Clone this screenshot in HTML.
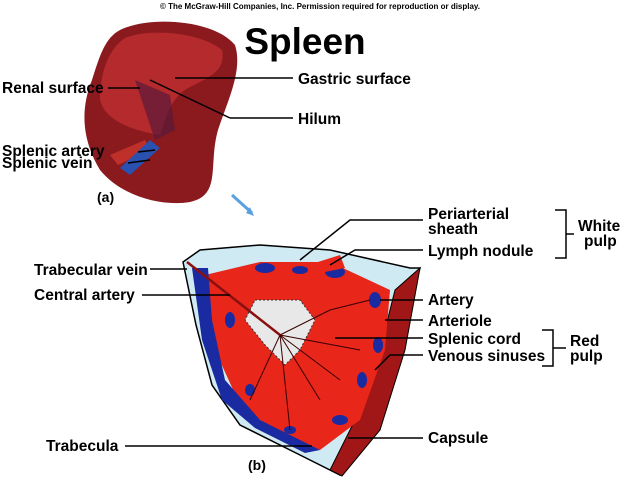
<!DOCTYPE html>
<html><head><style>
body{margin:0;background:#fff;width:640px;height:480px;overflow:hidden}
svg{display:block}
text{font-family:"Liberation Sans",sans-serif;font-weight:bold;fill:#000}
</style></head><body>
<svg width="640" height="480" viewBox="0 0 640 480">
<text x="320" y="9" font-size="8" text-anchor="middle" font-weight="normal">© The McGraw-Hill Companies, Inc. Permission required for reproduction or display.</text>
<text x="305" y="54" font-size="37" text-anchor="middle">Spleen</text>
<!-- spleen a -->
<path d="M120,30 C150,15 215,20 235,45 C243,70 228,100 218,130 C208,165 222,195 190,202 C160,207 120,195 100,170 C82,140 80,110 92,80 C100,55 105,38 120,30Z" fill="#8a1a1e"/>
<path d="M125,38 C150,28 200,32 222,50 C227,75 200,80 185,90 C170,100 165,120 160,135 C130,130 105,120 100,100 C100,70 110,48 125,38Z" fill="#b52a2c"/>
<path d="M135,80 L170,95 L175,130 L155,140 Z" fill="#5a1a3a" opacity=".7"/>
<path d="M110,155 L145,140 L150,150 L118,165Z" fill="#c0302a"/>
<path d="M120,168 L150,140 L160,148 L130,175Z" fill="#2a50b0"/>
<path d="M232,195 L252,213" stroke="#5aa0e0" stroke-width="3"/>
<path d="M246,213 L254,216 L250,207Z" fill="#5aa0e0"/>
<text x="97" y="202" font-size="14">(a)</text>
<g stroke="#000" stroke-width="1.5" fill="none">
<line x1="108" y1="88" x2="140" y2="88"/>
<line x1="175" y1="78" x2="293" y2="78"/>
<line x1="150" y1="80" x2="230" y2="118"/><line x1="230" y1="118" x2="293" y2="118"/>
<line x1="138" y1="152" x2="155" y2="150"/>
<line x1="128" y1="163" x2="150" y2="160"/>
</g>
<g font-size="15.5">
<text x="2" y="93">Renal surface</text>
<text x="298" y="84">Gastric surface</text>
<text x="298" y="124">Hilum</text>
<text x="2" y="156">Splenic artery</text>
<text x="2" y="168">Splenic vein</text>
</g>
<!-- section b -->
<path d="M183,262 L200,250 L260,245 L330,250 L410,268 L420,268 L400,330 L378,420 L340,475 L300,455 L240,425 L212,385 L196,325 Z" fill="#cfeaf2" stroke="#000" stroke-width="1.5"/>
<path d="M395,290 L420,268 L405,350 L380,430 L342,476 L330,470 L360,410 L385,330 Z" fill="#a11616" stroke="#000"/>
<path d="M205,275 L260,262 L330,262 L390,290 L385,350 L360,420 L320,450 L280,435 L240,405 L215,350 Z" fill="#e8261a"/>
<path d="M192,268 L208,268 L212,320 L225,380 L260,420 L320,450 L305,453 L255,428 L222,400 L202,340Z" fill="#1a2aa0"/>
<g fill="#1a2aa0">
<ellipse cx="265" cy="268" rx="10" ry="5"/><ellipse cx="300" cy="270" rx="8" ry="4"/>
<ellipse cx="335" cy="272" rx="10" ry="6"/><ellipse cx="375" cy="300" rx="6" ry="8"/>
<ellipse cx="378" cy="345" rx="5" ry="8"/><ellipse cx="362" cy="380" rx="5" ry="8"/>
<ellipse cx="340" cy="420" rx="8" ry="5"/><ellipse cx="230" cy="320" rx="5" ry="8"/>
<ellipse cx="250" cy="390" rx="5" ry="6"/><ellipse cx="290" cy="430" rx="6" ry="4"/>
</g>
<path d="M255,300 L300,300 L315,320 L300,350 L285,365 L265,345 L245,320Z" fill="#e8e8e8" stroke="#333" stroke-dasharray="2 2"/>
<g stroke="#3a0000" stroke-width="1" fill="none">
<path d="M187,262 L280,335 L360,350"/><path d="M280,335 L330,310 L370,300"/>
<path d="M280,335 L320,400"/><path d="M280,335 L290,430"/><path d="M280,335 L250,400"/>
<path d="M280,335 L340,380"/>
</g>
<line x1="187" y1="262" x2="280" y2="335" stroke="#8a1010" stroke-width="2.5"/>
<path d="M318,262 L340,255 L345,268 L325,272Z" fill="#e8261a"/>
<text x="248" y="470" font-size="14">(b)</text>
<g stroke="#000" stroke-width="1.5" fill="none">
<path d="M300,260 L350,220 L423,220"/>
<path d="M330,265 L355,250 L423,250"/>
<line x1="150" y1="269" x2="187" y2="269"/>
<line x1="142" y1="295" x2="230" y2="295"/>
<line x1="380" y1="300" x2="423" y2="300"/>
<line x1="385" y1="320" x2="423" y2="320"/>
<line x1="335" y1="338" x2="423" y2="338"/>
<path d="M375,370 L390,355 L423,355"/>
<line x1="125" y1="446" x2="312" y2="446"/>
<line x1="348" y1="438" x2="423" y2="438"/>
<path d="M555,210 L566,210 L566,258 L555,258 M566,234 L574,234"/>
<path d="M542,330 L553,330 L553,366 L542,366 M553,348 L566,348"/>
</g>
<g font-size="15.5">
<text x="428" y="219">Periarterial</text>
<text x="428" y="234">sheath</text>
<text x="428" y="256">Lymph nodule</text>
<text x="578" y="231">White</text>
<text x="584" y="246">pulp</text>
<text x="34" y="275">Trabecular vein</text>
<text x="34" y="300">Central artery</text>
<text x="428" y="305">Artery</text>
<text x="428" y="326">Arteriole</text>
<text x="428" y="344">Splenic cord</text>
<text x="428" y="361">Venous sinuses</text>
<text x="570" y="346">Red</text>
<text x="570" y="361">pulp</text>
<text x="46" y="451">Trabecula</text>
<text x="428" y="443">Capsule</text>
</g>
</svg>
</body></html>
